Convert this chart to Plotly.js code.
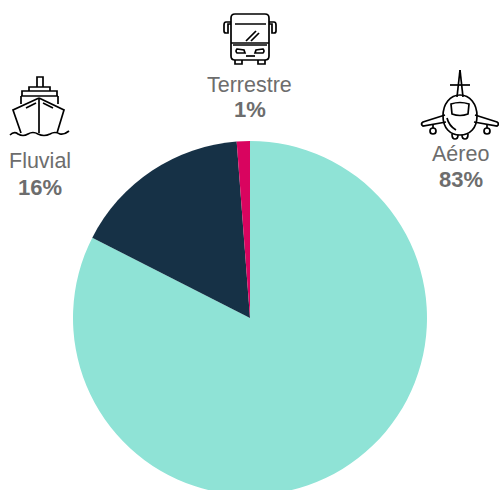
<!DOCTYPE html>
<html><head><meta charset="utf-8">
<script src="https://cdn.plot.ly/plotly-3.0.1.min.js"></script>
<style>html,body{margin:0;padding:0;background:#fff;overflow:hidden;width:499px;height:490px}</style>
</head><body><div id="c" style="width:499px;height:500px"></div>
<script>
var categories = ['Aéreo','Fluvial','Terrestre'];
var values = [82.5,16.3,1.2];
var labelsPct = ['83%','16%','1%'];
var colors = ['#8fe3d6','#163146','#d9045f'];
var W=499,H=500;
function P(d){var i=0;return d.replace(/-?\d+(\.\d+)?/g,function(n){var v=parseFloat(n);var o=(i++%2===0)?v/W:1-v/H;return o.toFixed(5);});}
var bus=[
'M235 14 L265 14 Q269 14 269 18 L269 56 Q269 60 265 60 L235 60 Q231 60 231 56 L231 18 Q231 14 235 14 Z',
'M235 24 L266 24','M231 43 L269 43','M233 45 L267 45',
'M231 22 L226 22 Q224 22 224 25 L224 31 Q224 33 226 33 L228 33 L228 24 L231 24',
'M269 22 L274 22 Q276 22 276 25 L276 31 Q276 33 274 33 L272 33 L272 24 L269 24',
'M246 41 L256 31','M251 41 L259 33',
'M237 49 L244 50 L245 53 L237 53 Q235 51 237 49 Z','M263 49 L256 50 L255 53 L263 53 Q265 51 263 49 Z',
'M246 56 L255 56',
'M235 60 L235 64 L242 64 L242 60','M258 60 L258 64 L265 64 L265 60'];
var ship=[
'M37 87 L37 77 L43 77 L43 87','M29 91 L29 87 L50 87 L50 91','M22 96 L22 91 L57 91 L57 96',
'M21 96 L58 96','M21 96 L21 104','M58 96 L58 104',
'M39 98 L13 110 L21 133','M39 98 L64 110 L57 133','M39 98 L39 133',
'M26 108 L36 103','M43 103 L53 108',
'M10 135 Q14 131 18 134 Q23 137 28 134 Q33 131 38 134 Q44 137 50 134 Q55 131 60 134 Q64 135 69 131'];
var plane=[
'M460 70 L457 97','M460 70 L463 97','M450 85 L470 85',
'M460 95 C470 95 477 104 477 116 C477 128 470 135 460 135 C450 135 443 128 443 116 C443 104 450 95 460 95 Z',
'M451 104 Q460 101 469 104 L468 114 Q460 117 452 114 Z',
'M445 115 L423 122 Q420 124 423 126 L446 122','M475 115 L497 122 Q500 124 497 126 L474 122',
'M433 125 L433 128','M487 125 L487 128',
'M430 131 Q430 128 433 128 Q436 128 436 131 Q436 134 433 134 Q430 134 430 131 Z',
'M484 131 Q484 128 487 128 Q490 128 490 131 Q490 134 487 134 Q484 134 484 131 Z',
'M452 134 Q452 139 455 139 Q458 139 458 135','M462 135 Q462 139 465 139 Q468 139 468 134',
'M447 118 Q449 126 456 130'];
var shapes=[].concat(bus,ship,plane).map(function(p){return {type:'path',xref:'paper',yref:'paper',path:P(p),line:{color:'#000',width:1.7},fillcolor:'rgba(0,0,0,0)'};});
var tx=[460.5,40,250],ty=[154,161,85],by=[179,187,110];
var ann=[];
categories.forEach(function(c,i){
 ann.push({xref:'paper',yref:'paper',x:tx[i]/W,y:1-ty[i]/H,text:c,showarrow:false,xanchor:'center',yanchor:'middle',font:{family:'Liberation Sans, Arial',size:21.5,color:'#6d6d6d'}});
 ann.push({xref:'paper',yref:'paper',x:tx[i]/W,y:1-by[i]/H,text:'<b>'+labelsPct[i]+'</b>',showarrow:false,xanchor:'center',yanchor:'middle',font:{family:'Liberation Sans, Arial',size:22,color:'#6d6d6d'}});
});
Plotly.newPlot('c',[{type:'pie',labels:categories,values:values,sort:false,direction:'clockwise',rotation:0,textinfo:'none',hoverinfo:'label+percent',
 marker:{colors:colors,line:{width:0}},domain:{x:[73/W,427/W],y:[5/H,359/H]}}],
 {width:W,height:H,margin:{l:0,r:0,t:0,b:0},showlegend:false,paper_bgcolor:'#fff',shapes:shapes,annotations:ann},{displayModeBar:false,staticPlot:true});
</script></body></html>
